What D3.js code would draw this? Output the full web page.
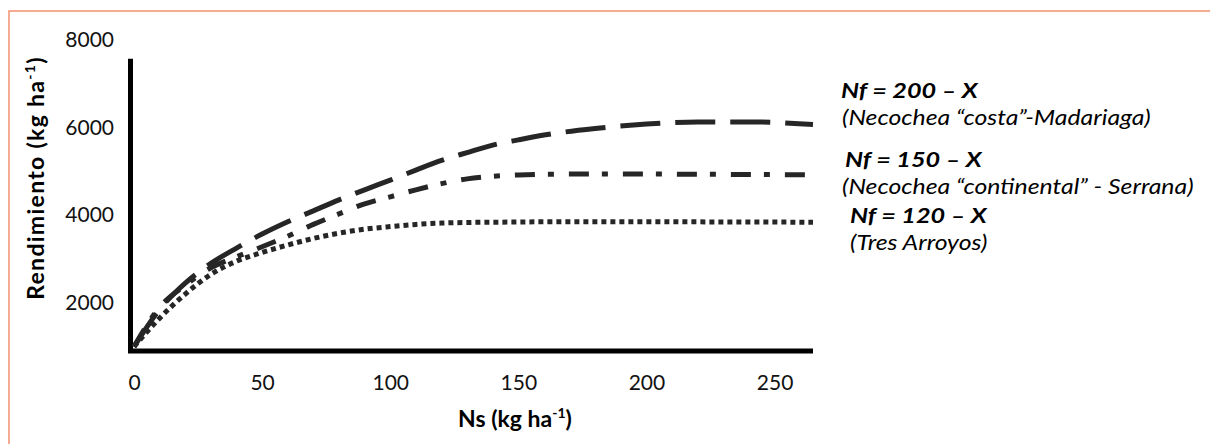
<!DOCTYPE html>
<html>
<head>
<meta charset="utf-8">
<script src="https://cdn.jsdelivr.net/npm/d3@7"></script>
<style>
  body { margin: 0; background: white; }
  svg { display: block; font-family: Lato, "Open Sans", sans-serif; }
</style>
</head>
<body>
<svg id="chart" width="1210" height="444"></svg>
<script>
// Ns values (kg ha-1) where the curves were read
var ns = [0, 10, 20, 30, 40, 50, 60, 70, 80, 90, 100, 110, 120, 130, 140, 150, 160, 180, 200, 220, 240, 265]
// yield (kg ha-1) for each Nf scenario
var nf200 = [1000, 1850, 2450, 2900, 3250, 3570, 3850, 4100, 4350, 4580, 4800, 5030, 5250, 5430, 5600, 5720, 5830, 5980, 6080, 6130, 6130, 6070]
var nf150 = [1000, 1900, 2400, 2800, 3050, 3280, 3520, 3790, 4030, 4260, 4420, 4580, 4720, 4830, 4890, 4920, 4935, 4940, 4940, 4935, 4930, 4920]
var nf120 = [1000, 1650, 2200, 2650, 2950, 3150, 3320, 3470, 3590, 3680, 3740, 3790, 3820, 3835, 3840, 3845, 3850, 3850, 3850, 3848, 3845, 3840]

var xTicks = [0, 50, 100, 150, 200, 250]
var yTicks = [2000, 4000, 6000, 8000]

var legendTitles = ['Nf = 200 – X', 'Nf = 150 – X', 'Nf = 120 – X']
var legendPlaces = ['(Necochea “costa”-Madariaga)', '(Necochea “continental” - Serrana)', '(Tres Arroyos)']

var svg = d3.select('#chart')

// orange frame (only top and left show)
svg.append('path')
  .attr('d', 'M9,444 V11 H1210')
  .attr('fill', 'none')
  .attr('stroke', '#F4916F')
  .attr('stroke-width', 1.5)

var x = d3.scaleLinear().domain([0, 265]).range([134, 813])
var y = d3.scaleLinear().domain([900, 8000]).range([351, 40])

// tick labels only, the thick axis lines are drawn by hand
var xAxis = svg.append('g')
  .attr('transform', 'translate(0,375)')
  .call(d3.axisBottom(x).tickValues(xTicks).tickSize(0).tickFormat(d3.format('d')))
xAxis.select('.domain').remove()
xAxis.selectAll('text').attr('font-size', 21).attr('font-family', 'Lato').attr('fill', '#111').attr('dy', '0.71em').attr('y', 0)

var yAxis = svg.append('g')
  .attr('transform', 'translate(114,0)')
  .call(d3.axisLeft(y).tickValues(yTicks).tickSize(0).tickFormat(d3.format('d')))
yAxis.select('.domain').remove()
yAxis.selectAll('text').attr('font-size', 21).attr('font-family', 'Lato').attr('fill', '#111').attr('x', 0)

// axis lines
svg.append('line')
  .attr('x1', x(0) - 6).attr('x2', x(265))
  .attr('y1', y(900)).attr('y2', y(900))
  .attr('stroke', '#000').attr('stroke-width', 5)
svg.append('line')
  .attr('x1', x(0) - 3.5).attr('x2', x(0) - 3.5)
  .attr('y1', y(900) + 2).attr('y2', y(7570))
  .attr('stroke', '#000').attr('stroke-width', 5)

// curves
var series = [
  { values: nf200, dash: '40,15' },
  { values: nf150, dash: '20,13,6,15' },
  { values: nf120, dash: '5,4' }
]
var line = d3.line()
  .x(function(d) { return x(d[0]) })
  .y(function(d) { return y(d[1]) })
  .curve(d3.curveMonotoneX)

series.forEach(function(s) {
  svg.append('path')
    .datum(ns.map(function(n, i) { return [n, s.values[i]] }))
    .attr('d', line)
    .attr('fill', 'none')
    .attr('stroke', '#262626')
    .attr('stroke-width', 5)
    .attr('stroke-dasharray', s.dash)
})

// axis titles
svg.append('text')
  .attr('x', 515).attr('y', 427)
  .attr('text-anchor', 'middle')
  .attr('font-size', 23).attr('font-weight', 'bold')
  .html('Ns (kg ha<tspan dy="-9" font-size="14">-1</tspan><tspan dy="9">)</tspan>')

svg.append('text')
  .attr('transform', 'translate(44,178) rotate(-90)')
  .attr('text-anchor', 'middle')
  .attr('font-size', 23).attr('font-weight', 'bold')
  .attr('letter-spacing', 1.3)
  .html('Rendimiento (kg ha<tspan dy="-9" font-size="14">-1</tspan><tspan dy="9">)</tspan>')

// labels next to the curves
var titleX = [841, 845, 850]
var titleY = [98, 167, 223]
var placeX = [842, 842, 850]
var placeY = [125, 194, 250]
legendTitles.forEach(function(t, i) {
  svg.append('text')
    .attr('transform', 'translate(' + titleX[i] + ',' + titleY[i] + ') scale(1.2,1)')
    .attr('font-size', 21).attr('font-weight', 'bold').attr('font-style', 'italic')
    .text(t)
  svg.append('text')
    .attr('transform', 'translate(' + placeX[i] + ',' + placeY[i] + ') scale(1.18,1)')
    .attr('font-size', 21).attr('font-style', 'italic')
    .text(legendPlaces[i])
})
</script>
</body>
</html>
